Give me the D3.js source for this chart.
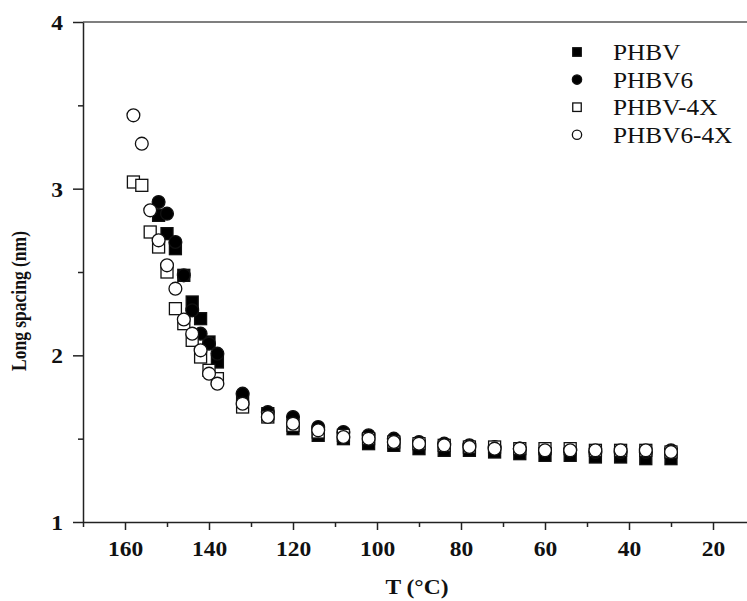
<!DOCTYPE html>
<html>
<head>
<meta charset="utf-8">
<script src="https://cdn.jsdelivr.net/npm/d3@7"></script>
<style>
  html, body { margin: 0; padding: 0; background: #fff; }
  svg { display: block; }
</style>
</head>
<body>
<svg id="chart" width="747" height="601"></svg>
<script>
// Long spacing vs temperature for four PHBV samples
const seriesNames = ["PHBV", "PHBV6", "PHBV-4X", "PHBV6-4X"];

const tempPHBV   = [152, 150, 148, 146, 144, 142, 140, 138, 132, 126, 120, 114, 108, 102, 96, 90, 84, 78, 72, 66, 60, 54, 48, 42, 36, 30];
const valPHBV    = [2.84, 2.73, 2.64, 2.48, 2.32, 2.22, 2.08, 1.96, 1.74, 1.65, 1.56, 1.52, 1.50, 1.47, 1.46, 1.44, 1.43, 1.43, 1.42, 1.41, 1.40, 1.40, 1.39, 1.39, 1.38, 1.38];

const tempPHBV6  = [152, 150, 148, 146, 144, 142, 140, 138, 132, 126, 120, 114, 108, 102, 96, 90, 84, 78, 72, 66, 60, 54, 48, 42, 36, 30];
const valPHBV6   = [2.92, 2.85, 2.68, 2.48, 2.27, 2.13, 2.07, 2.01, 1.77, 1.66, 1.63, 1.57, 1.54, 1.52, 1.50, 1.48, 1.47, 1.46, 1.45, 1.44, 1.43, 1.43, 1.42, 1.42, 1.42, 1.43];

const tempPHBV4X = [158, 156, 154, 152, 150, 148, 146, 144, 142, 140, 138, 132, 126, 120, 114, 108, 102, 96, 90, 84, 78, 72, 66, 60, 54, 48, 42, 36, 30];
const valPHBV4X  = [3.04, 3.02, 2.74, 2.65, 2.50, 2.28, 2.19, 2.09, 1.99, 1.91, 1.86, 1.69, 1.63, 1.58, 1.54, 1.52, 1.50, 1.48, 1.47, 1.46, 1.45, 1.45, 1.44, 1.44, 1.44, 1.43, 1.43, 1.43, 1.42];

const tempPHBV64X = [158, 156, 154, 152, 150, 148, 146, 144, 142, 140, 138, 132, 126, 120, 114, 108, 102, 96, 90, 84, 78, 72, 66, 60, 54, 48, 42, 36, 30];
const valPHBV64X  = [3.44, 3.27, 2.87, 2.69, 2.54, 2.40, 2.215, 2.13, 2.03, 1.89, 1.83, 1.71, 1.63, 1.59, 1.55, 1.51, 1.50, 1.48, 1.47, 1.46, 1.45, 1.44, 1.44, 1.43, 1.43, 1.43, 1.43, 1.43, 1.42];

const xTickValues = [160, 140, 120, 100, 80, 60, 40, 20];
const yTickValues = [1, 2, 3, 4];

const svg = d3.select("#chart");
const plotLeft = 83, plotTop = 22, plotBottom = 522, plotRight = 755;

const x = d3.scaleLinear().domain([170, 10]).range([plotLeft, plotRight]);
const y = d3.scaleLinear().domain([1, 4]).range([plotBottom, plotTop]);

const serif = "'Liberation Serif', 'Times New Roman', serif";
const widen = 1.12; // text is set slightly wide

// top frame line
svg.append("line")
  .attr("x1", plotLeft).attr("x2", 747)
  .attr("y1", plotTop).attr("y2", plotTop)
  .attr("stroke", "#555").attr("stroke-width", 1.6);

// x axis: major ticks with labels, minor ticks between
const xAxis = svg.append("g").attr("transform", `translate(0,${plotBottom})`);
xAxis.call(d3.axisBottom(x).tickValues(xTickValues).tickFormat(d3.format("d")).tickSize(8).tickSizeOuter(0));
const xMinor = svg.append("g").attr("transform", `translate(0,${plotBottom})`);
xMinor.call(d3.axisBottom(x).tickValues([170, 150, 130, 110, 90, 70, 50, 30]).tickFormat("").tickSize(5).tickSizeOuter(0));
xMinor.select(".domain").remove();
xAxis.select(".domain").attr("d", `M${plotLeft},0.5H747`);

const yAxis = svg.append("g").attr("transform", `translate(${plotLeft},0)`);
yAxis.call(d3.axisLeft(y).tickValues(yTickValues).tickFormat(d3.format("d")).tickSize(10).tickSizeOuter(0));
const yMinor = svg.append("g").attr("transform", `translate(${plotLeft},0)`);
yMinor.call(d3.axisLeft(y).tickValues([1.5, 2.5, 3.5]).tickFormat("").tickSize(5).tickSizeOuter(0));
yMinor.select(".domain").remove();

svg.selectAll(".domain, .tick line").attr("stroke", "#222").attr("stroke-width", 1.5);
xAxis.selectAll(".tick text")
  .attr("font-family", serif).attr("font-size", 21).attr("font-weight", "bold")
  .attr("fill", "#111").attr("x", 0).attr("y", 0).attr("dy", "0")
  .attr("transform", `translate(0,34) scale(${widen},1)`);
yAxis.selectAll(".tick text")
  .attr("font-family", serif).attr("font-size", 21).attr("font-weight", "bold")
  .attr("fill", "#111").attr("x", 0).attr("dy", "0.35em")
  .attr("transform", `translate(-20,0) scale(${widen},1)`);

// axis titles
svg.append("text")
  .attr("transform", `translate(417,594) scale(${widen},1)`)
  .attr("text-anchor", "middle")
  .attr("font-family", serif).attr("font-size", 21).attr("font-weight", "bold")
  .attr("fill", "#111")
  .text("T (°C)");

svg.append("text")
  .attr("transform", `translate(26,301) scale(1.2,1) rotate(-90)`)
  .attr("text-anchor", "middle")
  .attr("font-family", serif).attr("font-size", 17.5).attr("font-weight", "bold")
  .attr("fill", "#111")
  .text("Long spacing (nm)");

// markers
const series = [
  { name: seriesNames[0], t: tempPHBV,    v: valPHBV,    shape: "square", filled: true },
  { name: seriesNames[1], t: tempPHBV6,   v: valPHBV6,   shape: "circle", filled: true },
  { name: seriesNames[2], t: tempPHBV4X,  v: valPHBV4X,  shape: "square", filled: false },
  { name: seriesNames[3], t: tempPHBV64X, v: valPHBV64X, shape: "circle", filled: false }
];

function drawMarker(g, cx, cy, s, size) {
  if (s.shape === "square") {
    g.append("rect")
      .attr("x", cx - size / 2).attr("y", cy - size / 2)
      .attr("width", size).attr("height", size)
      .attr("fill", s.filled ? "#000" : "#fff")
      .attr("stroke", "#111").attr("stroke-width", 1.3);
  } else {
    g.append("circle")
      .attr("cx", cx).attr("cy", cy).attr("r", size / 2 + 0.4)
      .attr("fill", s.filled ? "#000" : "#fff")
      .attr("stroke", "#111").attr("stroke-width", 1.3);
  }
}

const plot = svg.append("g");
series.forEach(s => {
  const g = plot.append("g").attr("class", "series");
  s.t.forEach((t, i) => drawMarker(g, x(t), y(s.v[i]), s, 12));
});

// legend
const legend = svg.append("g");
series.forEach((s, i) => {
  const ly = 52 + i * 27.6;
  drawMarker(legend, 577, ly, s, 8.5);
  legend.append("text")
    .attr("transform", `translate(613,${ly}) scale(1.1,1)`)
    .attr("dy", "0.35em")
    .attr("font-family", serif).attr("font-size", 23)
    .attr("fill", "#111")
    .text(s.name);
});
</script>
</body>
</html>
